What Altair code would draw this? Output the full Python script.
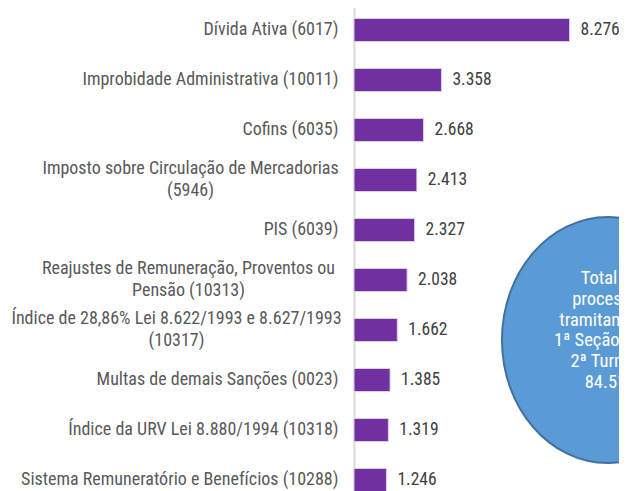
import altair as alt
import pandas as pd

categories = [
    "Dívida Ativa (6017)",
    "Improbidade Administrativa (10011)",
    "Cofins (6035)",
    "Imposto sobre Circulação de Mercadorias|(5946)",
    "PIS (6039)",
    "Reajustes de Remuneração, Proventos ou|Pensão (10313)",
    "Índice de 28,86% Lei 8.622/1993 e 8.627/1993|(10317)",
    "Multas de demais Sanções (0023)",
    "Índice da URV Lei 8.880/1994 (10318)",
    "Sistema Remuneratório e Benefícios (10288)",
]
values = [8276, 3358, 2668, 2413, 2327, 2038, 1662, 1385, 1319, 1246]
note_text = "Total de\nprocessos\ntramitando na\n1ª Seção e 1ª e\n2ª Turmas:\n84.512"

FONT = "Liberation Sans Narrow, Arial Narrow, Roboto Condensed, Liberation Sans, sans-serif"
FS = 18.5
VFS = 17.5
LFS = 18

df = pd.DataFrame({"cat": categories, "v": values})

two_line = "indexof(datum.label, '|') >= 0"

y_enc = alt.Y(
    "cat:N",
    sort=categories,
    scale=alt.Scale(range=[-3, 497], paddingInner=0.54, paddingOuter=0.27),
    axis=alt.Axis(
        title=None,
        ticks=False,
        domainColor="#d9d9d9",
        domainWidth=2,
        labelPadding={
            "condition": [
                {"test": "indexof(datum.label, 'Imposto') >= 0", "value": 164},
                {"test": "indexof(datum.label, 'Reajustes') >= 0", "value": 166},
                {"test": "indexof(datum.label, '28,86') >= 0", "value": 178},
            ],
            "value": 16,
        },
        labelAlign={"condition": {"test": two_line, "value": "center"}, "value": "right"},
        labelOffset={"condition": {"test": two_line, "value": -11}, "value": 0},
        labelFont=FONT,
        labelFontSize=LFS,
        labelColor="#595959",
        labelLimit=0,
        labelLineHeight=22,
        labelExpr="split(datum.label, '|')",
    ),
)
x_enc = alt.X("v:Q", scale=alt.Scale(domain=[0, 10173], nice=False, zero=True), axis=None)

bars = alt.Chart(df).mark_bar(color="#7030A0", stroke="#dccdea", strokeWidth=1).encode(
    x=x_enc, y=y_enc
)

vals = (
    alt.Chart(df)
    .transform_calculate(lbl="replace(format(datum.v, ','), ',', '.')")
    .mark_text(align="left", baseline="middle", dx=11, font=FONT, fontSize=VFS, color="#404040")
    .encode(x=x_enc, y=y_enc, text="lbl:N")
)

ellipse_path = "M -0.862 0 A 0.862 1 0 1 0 0.862 0 A 0.862 1 0 1 0 -0.862 0 Z"
ellipse = alt.Chart(pd.DataFrame({"n": [note_text]})).mark_point(
    shape=ellipse_path, size=246 * 246, filled=True, fill="#5B9BD5", stroke="#41719C",
    strokeWidth=2, opacity=1
).encode(x=alt.value(254), y=alt.value(332))

note = alt.Chart(pd.DataFrame({"n": [note_text]})).mark_text(
    align="center", baseline="middle", font=FONT, fontSize=FS, color="white",
    lineBreak="\n", lineHeight=20.8
).encode(x=alt.value(256), y=alt.value(270), text="n:N")

chart = alt.layer(bars, vals, ellipse, note).properties(
    width=265,
    height=483,
    autosize=alt.AutoSizeParams(type="none"),
    padding={"left": 346, "top": 0, "right": 0, "bottom": 0},
).configure_view(stroke=None)

chart.save("out.html", embed_options={"renderer": "svg", "actions": False})
